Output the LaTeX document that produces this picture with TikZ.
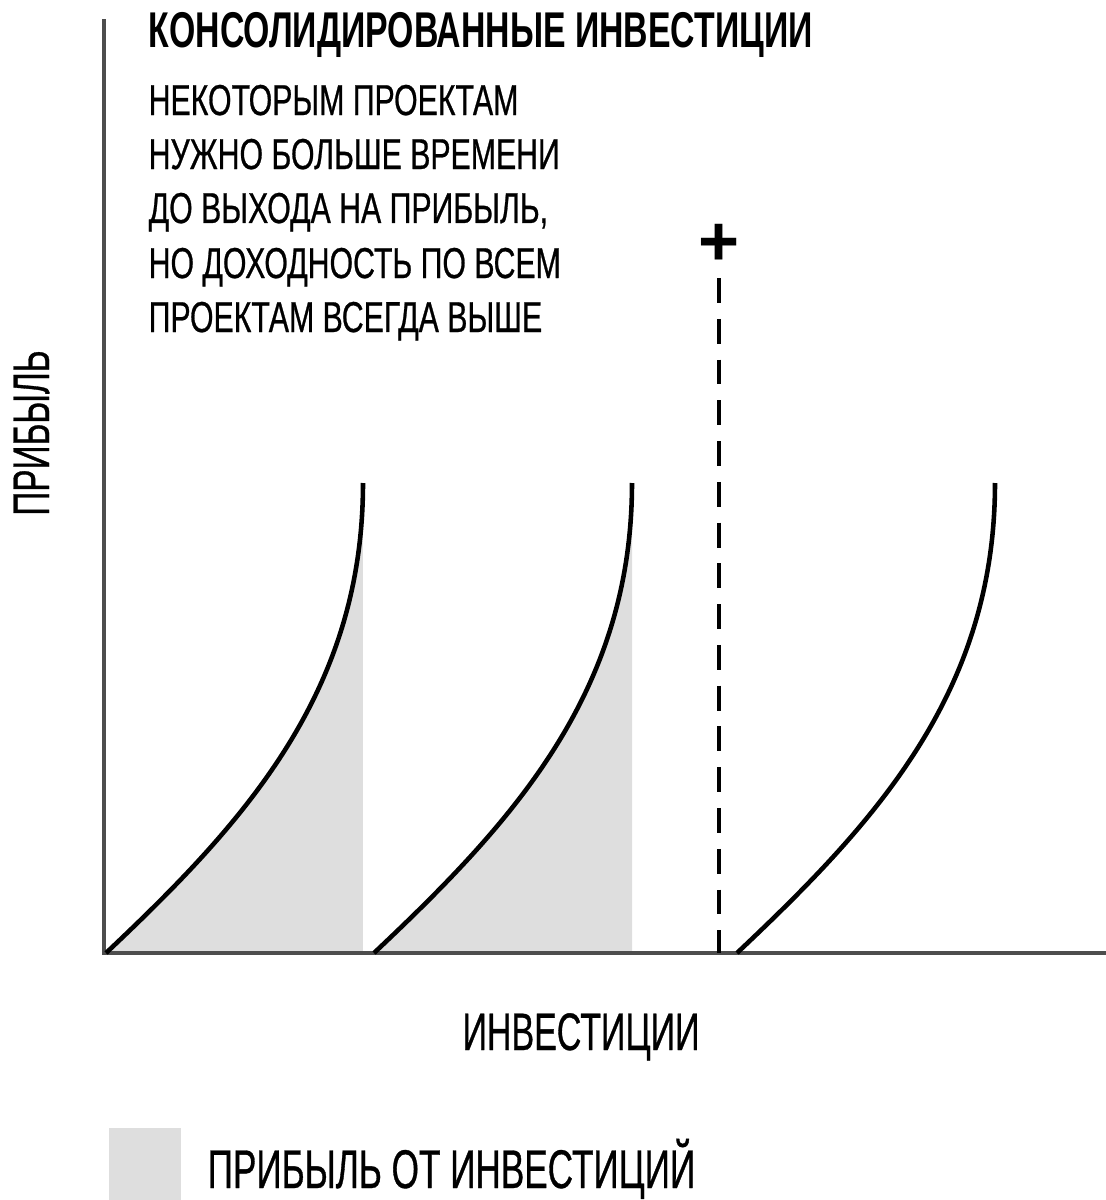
\documentclass[tikz,border=0pt]{standalone}
\usepackage{fontspec}
\setmainfont[FakeStretch=0.7, FakeBold=0.6]{Liberation Sans}
\newfontfamily\titlefont[FakeStretch=0.673]{Liberation Sans Bold}
\newfontfamily\labelfont[FakeStretch=0.645, FakeBold=0.6]{Liberation Sans}
\newfontfamily\plusfont{Liberation Sans Bold}
\definecolor{gaingray}{HTML}{DEDEDE}
\definecolor{axisgray}{HTML}{4D4D4D}

\begin{document}
\begin{tikzpicture}[scale=1,
    axis/.style={draw=axisgray, line width=1.1pt},
    curve/.style={draw=black, line width=1.3pt},
    gain/.style={fill=gaingray},
    dashline/.style={draw=black, line width=1pt, dash pattern=on 7.1pt off 4.5pt},
    txt/.style={inner sep=0pt, anchor=base west, font=\fontsize{12.3}{14}\selectfont}]

    \useasboundingbox (-1.04,-2.47) rectangle (10.02,9.53);

    % shaded profit under the first two curves
    \fill[gain] (0.02,0) .. controls (1.40,1.30) and (2.59,2.60) .. (2.59,4.70) -- (2.59,0) -- cycle;
    \fill[gain] (2.70,0) .. controls (4.08,1.30) and (5.28,2.60) .. (5.28,4.70) -- (5.28,0) -- cycle;

    % axes
    \coordinate (o) at (0,0);
    \coordinate (ytop) at (0,9.34);
    \coordinate (xend) at (10.02,0);
    \draw[axis] (ytop) -- (o) -- (xend);

    % the three projects
    \draw[curve] (0.02,0) .. controls (1.40,1.30) and (2.59,2.60) .. (2.59,4.70);
    \draw[curve] (2.70,0) .. controls (4.08,1.30) and (5.28,2.60) .. (5.28,4.70);
    \draw[curve] (6.33,0) .. controls (7.71,1.30) and (8.91,2.60) .. (8.91,4.70);

    % new project marker
    \node[inner sep=0pt, anchor=base, font=\plusfont\fontsize{20}{20}\selectfont] (plus) at (6.15,6.88) {+};
    \coordinate (dtop) at (6.15,6.75);
    \coordinate (dbot) at (6.15,0);
    \draw[dashline] (dtop) -- (dbot);

    \node[txt, font=\titlefont\fontsize{14.3}{16}\selectfont] (title) at (0.44,9.05) {КОНСОЛИДИРОВАННЫЕ ИНВЕСТИЦИИ};
    \node[txt] (line1) at (0.44,8.38) {НЕКОТОРЫМ ПРОЕКТАМ};
    \node[txt] (line2) at (0.44,7.84) {НУЖНО БОЛЬШЕ ВРЕМЕНИ};
    \node[txt] (line3) at (0.44,7.30) {ДО ВЫХОДА НА ПРИБЫЛЬ,};
    \node[txt] (line4) at (0.44,6.75) {НО ДОХОДНОСТЬ ПО ВСЕМ};
    \node[txt] (line5) at (0.44,6.21) {ПРОЕКТАМ ВСЕГДА ВЫШЕ};

    \node[inner sep=0pt, anchor=base, font=\labelfont\fontsize{15}{17}\selectfont] (xlabel) at (4.77,-0.97) {ИНВЕСТИЦИИ};
    \node[inner sep=0pt, rotate=90, font=\labelfont\fontsize{14.7}{17}\selectfont] (ylabel) at (-0.725,5.20) {ПРИБЫЛЬ};

    % legend
    \node[gain, inner sep=0pt, minimum width=0.72cm, minimum height=0.73cm, anchor=north west] (key) at (0.04,-1.74) {};
    \node[txt, font=\labelfont\fontsize{15.5}{17}\selectfont] (keytext) at (1.03,-2.35) {ПРИБЫЛЬ ОТ ИНВЕСТИЦИЙ};

\end{tikzpicture}
\end{document}
